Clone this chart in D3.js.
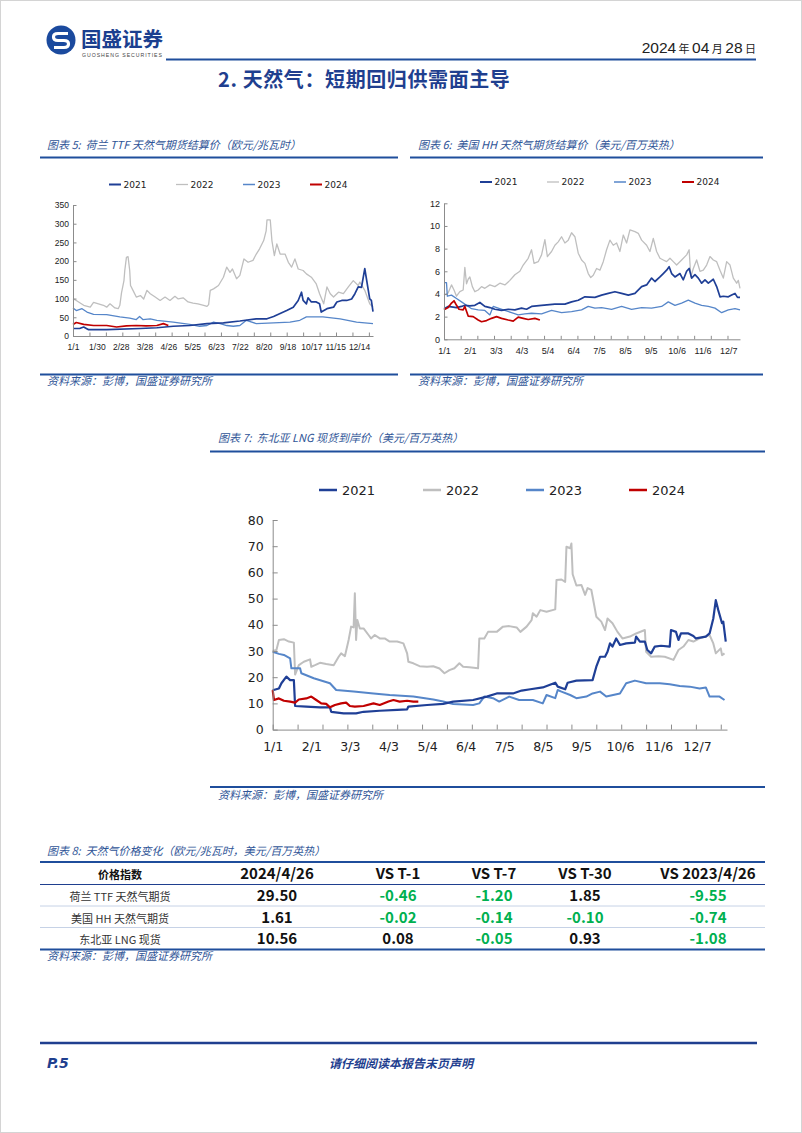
<!DOCTYPE html>
<html><head><meta charset="utf-8">
<script src="https://cdn.jsdelivr.net/npm/d3@7"></script>
<style>body{margin:0;background:#fff}svg text{white-space:pre}</style>
</head><body>
<svg id="page" width="802" height="1133"></svg>
<script>
// ---------------- DATA ----------------
const years = ["2021", "2022", "2023", "2024"];
// Chart 5: TTF (EUR/MWh) — [day of year, value]
const ttf2021 = [[0,20],[8,20],[13,24],[19,17],[41,17],[82,20],[102,22],[122,26],[142,28],[163,33],[183,35],[203,40],[223,46],[236,46],[244,52],[252,60],[260,68],[268,77],[274,95],[278,117],[280,95],[284,86],[286,102],[290,91],[296,91],[300,86],[302,64],[309,73],[317,77],[321,91],[327,95],[333,95],[339,99],[343,113],[347,131],[351,130],[355,180],[359,126],[361,99],[363,95],[365,65]];
const ttf2022 = [[0,100],[4,95],[13,82],[21,77],[25,90],[31,86],[37,82],[41,77],[45,86],[51,75],[55,73],[57,82],[59,115],[62,148],[63,175],[65,210],[67,212],[69,175],[70,135],[73,122],[77,104],[82,108],[86,99],[90,122],[94,113],[100,104],[106,95],[112,104],[118,95],[124,106],[128,99],[134,102],[140,91],[146,88],[152,86],[159,82],[163,79],[165,84],[167,122],[171,126],[177,135],[183,157],[187,184],[191,170],[194,179],[199,153],[203,162],[208,206],[213,197],[219,202],[223,219],[227,233],[232,255],[235,281],[236,310],[240,310],[242,255],[245,215],[248,246],[252,219],[258,219],[262,197],[266,184],[270,206],[274,179],[280,175],[284,166],[290,157],[296,139],[300,113],[305,86],[309,131],[313,113],[317,104],[323,117],[329,113],[335,131],[341,148],[347,135],[349,144],[355,122],[361,86],[365,77]];
const ttf2023 = [[0,75],[4,68],[11,73],[17,64],[25,58],[41,57],[57,51],[69,48],[77,44],[81,52],[85,44],[94,46],[102,42],[122,37],[142,31],[154,26],[163,28],[171,37],[179,33],[187,28],[195,26],[203,28],[211,42],[223,33],[244,35],[264,37],[276,42],[284,51],[304,51],[325,46],[345,37],[365,33]];
const ttf2024 = [[0,31],[4,36],[13,31],[25,28],[41,28],[53,24],[65,27],[77,28],[89,27],[102,28],[110,33],[116,28]];
const ttfXLabels = ["1/1","1/30","2/28","3/28","4/26","5/25","6/23","7/22","8/20","9/18","10/17","11/15","12/14"];
const ttfYTicks = [0,50,100,150,200,250,300,350];

// Chart 6: Henry Hub (USD/MMBtu)
const hh2021 = [[0,2.7],[5,2.9],[15,2.8],[21,2.9],[25,3.0],[31,2.95],[37,3.0],[43,3.25],[49,2.9],[55,2.8],[61,2.65],[69,2.55],[77,2.65],[85,2.6],[93,2.75],[99,2.65],[105,2.9],[117,3.0],[133,3.1],[145,3.1],[153,3.3],[161,3.45],[169,3.75],[181,3.7],[189,3.9],[197,4.05],[205,4.2],[213,4.05],[221,3.9],[229,4.05],[237,4.65],[243,4.8],[249,5.4],[253,5.1],[259,5.5],[263,5.8],[267,6.1],[270,6.4],[273,5.8],[277,5.5],[283,5.8],[287,5.25],[291,6.0],[294,6.25],[297,5.4],[301,5.7],[305,5.4],[309,4.95],[313,5.25],[317,4.95],[323,5.3],[327,4.65],[331,3.75],[335,3.8],[341,3.75],[345,3.9],[349,4.05],[352,3.7],[355,3.7]];
const hh2022 = [[0,3.9],[5,4.1],[9,4.8],[12,4.35],[15,3.8],[19,4.2],[23,4.35],[25,6.35],[27,4.9],[29,5.3],[31,5.5],[34,4.65],[37,4.2],[41,4.35],[45,4.65],[49,4.5],[55,4.8],[61,4.65],[67,4.95],[73,4.8],[79,5.2],[85,5.7],[91,6.0],[95,6.55],[101,7.15],[105,7.9],[108,6.7],[113,6.85],[117,7.45],[121,8.8],[124,7.3],[129,7.75],[133,8.3],[137,8.6],[141,9.05],[145,8.5],[149,8.75],[153,9.4],[157,9.05],[161,7.6],[165,7.0],[169,6.7],[173,5.8],[176,5.45],[179,5.65],[183,6.25],[187,6.1],[191,6.85],[195,7.9],[199,8.75],[203,8.3],[207,8.5],[211,7.75],[215,9.2],[219,8.5],[223,9.65],[229,9.5],[233,9.35],[237,8.75],[243,8.3],[247,7.75],[251,8.9],[255,7.75],[259,7.15],[263,7.0],[267,6.85],[271,7.15],[275,6.85],[279,6.55],[285,7.0],[291,7.45],[294,7.9],[296,5.5],[299,6.25],[303,7.0],[307,6.0],[311,6.1],[315,6.55],[319,7.3],[323,7.0],[327,6.85],[331,6.1],[335,5.4],[339,6.85],[343,6.55],[347,5.4],[351,4.95],[353,5.2],[355,4.5]];
const hh2023 = [[0,5.0],[3,5.0],[4,3.8],[9,3.9],[15,3.6],[21,3.3],[27,3.0],[33,2.7],[41,2.6],[49,2.55],[55,2.15],[59,2.9],[65,2.75],[73,2.55],[81,2.35],[89,2.15],[97,2.25],[105,2.3],[117,2.25],[129,2.55],[141,2.35],[153,2.45],[165,2.6],[173,2.9],[181,2.75],[189,2.8],[201,2.65],[213,2.9],[225,2.65],[237,2.8],[249,2.75],[261,2.9],[269,3.3],[277,3.0],[285,3.2],[293,3.45],[301,3.2],[309,3.0],[317,2.9],[325,2.75],[333,2.35],[341,2.6],[349,2.7],[355,2.6]];
const hh2024 = [[0,2.6],[5,2.8],[9,3.2],[12,3.4],[15,3.0],[18,2.65],[23,2.6],[25,2.9],[29,2.05],[35,2.0],[41,1.7],[45,1.55],[51,1.65],[57,1.85],[63,2.0],[69,1.85],[77,1.7],[83,1.6],[89,1.95],[95,1.85],[101,1.75],[109,1.85],[115,1.7]];
const hhXLabels = ["1/1","2/1","3/3","4/3","5/4","6/4","7/5","8/5","9/5","10/6","11/6","12/7"];
const hhYTicks = [0,2,4,6,8,10,12];

// Chart 7: Northeast Asia LNG spot (USD/MMBtu)
const lng2021 = [[0,15],[5,15.7],[7,17.7],[11,20.2],[14,18.9],[17,18.9],[18,9.0],[27,8.8],[38,8.5],[46,8.5],[47,6.8],[57,6.2],[67,6.2],[73,6.8],[86,7.2],[100,7.5],[108,7.7],[109,8.8],[124,9.4],[137,9.8],[145,10.7],[161,11.3],[172,12.6],[180,13.8],[193,13.8],[200,14.9],[207,15.4],[217,16.1],[227,17.9],[229,16.4],[235,15.4],[237,17.9],[244,18.7],[257,18.9],[260,24],[263,27.8],[267,27.8],[269,29.7],[271,32.9],[273,31.7],[276,34.8],[279,32.3],[284,32.9],[291,33.2],[292,35.5],[295,33.6],[299,33.6],[301,30.4],[304,29.1],[307,31.7],[312,32],[319,31.7],[320,38],[324,37.3],[326,34.2],[328,36.7],[334,36.7],[338,35.7],[340,34.8],[348,35.5],[351,36.7],[354,42.4],[356,49.4],[358,45.6],[361,40.6],[362,41.2],[364,33.6]];
const lng2022 = [[0,30],[3,30.4],[5,34.2],[9,34.5],[13,33.6],[17,33.2],[18,21],[21,24.6],[25,25.9],[30,26.8],[31,24],[34,24.6],[38,25.5],[43,25],[49,24.6],[53,27.8],[55,29.1],[58,28],[61,34.2],[63,39.3],[65,39],[66,52],[67,34.2],[68,41.8],[70,38.6],[73,38.6],[77,36.1],[79,34.8],[82,36.1],[86,34.8],[90,34.8],[94,33.6],[100,33.6],[105,32.9],[108,29.1],[109,25.9],[113,25.3],[118,24.2],[124,24],[129,24.2],[134,23.3],[138,21.5],[142,22.7],[146,23.4],[150,25.3],[153,24],[158,23.8],[165,23.4],[166,34.8],[170,34.8],[173,37.3],[180,37.3],[185,39.3],[190,39.5],[196,39],[199,37.3],[204,39.3],[208,41.8],[209,44.4],[212,43.1],[215,45.6],[220,45],[227,45.9],[228,57.1],[232,57.3],[235,56.4],[236,69.8],[239,69.2],[240,71],[241,59.3],[244,55],[248,55.2],[251,51.4],[253,54],[256,53.3],[257,50.8],[260,43.1],[264,41.2],[267,38],[269,42.4],[273,40.6],[277,37.3],[281,34.8],[287,35.5],[292,36.7],[299,38],[300,29.7],[304,27.8],[310,28],[315,27.8],[322,26.6],[326,30.4],[330,31.7],[334,34.2],[338,33.6],[343,34.8],[351,36.1],[354,32.9],[356,29.1],[360,31],[361,28.4],[363,29.1]];
const lng2023 = [[0,29.7],[5,28.9],[9,28.5],[14,27.2],[15,23.4],[22,23.4],[23,21.5],[33,19.6],[46,17.7],[51,15.1],[65,14.5],[81,13.8],[94,13.2],[113,12.6],[129,11.5],[137,10.7],[145,9.8],[161,9.4],[166,10],[170,12.6],[177,12],[182,10.7],[190,12.6],[198,11.3],[209,11.3],[217,10],[220,13.2],[227,12],[229,15.1],[232,14.5],[239,13.2],[244,12],[252,12.6],[257,13.8],[263,14.5],[268,12.6],[279,13.8],[284,17.7],[291,18.7],[300,17.7],[311,17.7],[319,17.3],[327,16.6],[335,16.4],[343,15.7],[348,16.1],[351,12.6],[359,12.6],[363,11.3]];
const lng2024 = [[0,15.1],[1,11.3],[5,11.9],[9,11],[14,10.7],[18,10.3],[21,11.5],[27,11.9],[31,12.6],[35,11.3],[39,10],[43,9.8],[46,8.5],[50,9.4],[55,10],[59,10.3],[62,9],[66,8.8],[73,9],[81,10],[86,9.4],[93,10.7],[97,11.3],[102,10.7],[108,11],[113,10.7],[117,10.7]];
const lngXLabels = ["1/1","2/1","3/3","4/3","5/4","6/4","7/5","8/5","9/5","10/6","11/6","12/7"];
const lngYTicks = [0,10,20,30,40,50,60,70,80];

// Table 8
const tableHeader = ["价格指数","2024/4/26","VS T-1","VS T-7","VS T-30","VS 2023/4/26"];
const tableRowNames = ["荷兰 TTF 天然气期货","美国 HH 天然气期货","东北亚 LNG 现货"];
const tablePrice = ["29.50","1.61","10.56"];
const tableVsT1 = ["-0.46","-0.02","0.08"];
const tableVsT7 = ["-1.20","-0.14","-0.05"];
const tableVsT30 = ["1.85","-0.10","0.93"];
const tableVsYear = ["-9.55","-0.74","-1.08"];

// ---------------- STYLE ----------------
const CJK = "'Noto Sans CJK SC','Noto Sans',sans-serif";
const NUM = "'DejaVu Sans',sans-serif";
const NUM_SMALL = "'Liberation Sans',Arial,sans-serif";
const DARK_BLUE = "#1f4e9c";
const TITLE_BLUE = "#2f5597";
const yearColor = {"2021":"#1f3f96","2022":"#bfbfbf","2023":"#5686c9","2024":"#c00000"};
const drawOrder = [1, 2, 0, 3];

const svg = d3.select("#page");
svg.append("rect").attr("x",0.5).attr("y",0.5).attr("width",801).attr("height",1132)
  .attr("fill","#fff").attr("stroke","#d4d4d4");

// ---------------- HEADER ----------------
const logo = svg.append("g");
logo.append("circle").attr("cx",61).attr("cy",40).attr("r",14.5).attr("fill","#1b4a9e");
logo.append("path").attr("d","M68,33.5 H58 Q53.5,33.5 53.5,37 Q53.5,40.5 58,40.5 H64 Q68.5,40.5 68.5,44 Q68.5,47.5 64,47.5 H54")
  .attr("fill","none").attr("stroke","#fff").attr("stroke-width",3.2);
svg.append("text").attr("x",81).attr("y",46.5).attr("font-family",CJK).attr("font-weight","bold")
  .attr("font-size",20.5).attr("fill","#1b3f8f").text("国盛证券");
svg.append("text").attr("x",82).attr("y",56.5).attr("font-family","'Liberation Sans',sans-serif")
  .attr("font-size",5.2).attr("letter-spacing",0.95).attr("fill","#444").text("GUOSHENG SECURITIES");
const dateT = svg.append("text").attr("x",756).attr("y",53).attr("text-anchor","end").attr("fill","#222");
[["2024","n"],[" 年 ","c"],["04","n"],[" 月 ","c"],["28","n"],[" 日","c"]].forEach(([t,k]) => {
  dateT.append("tspan").attr("font-family", k==="n" ? "'Liberation Sans',sans-serif" : CJK)
    .attr("font-size", k==="n" ? 15.5 : 11).text(t);
});
svg.append("line").attr("x1",166).attr("x2",756).attr("y1",59.5).attr("y2",59.5)
  .attr("stroke",DARK_BLUE).attr("stroke-width",2);
svg.append("text").attr("x",218).attr("y",87).attr("font-family",CJK).attr("font-weight","bold")
  .attr("font-size",20).attr("letter-spacing",0.6).attr("fill","#1f3f8f").text("2. 天然气：短期回归供需面主导");

// ---------------- HELPERS ----------------
function caption(x, y, txt, size) {
  svg.append("text").attr("x",x).attr("y",y).attr("font-family",CJK).attr("font-style","italic")
    .attr("font-size",size||11).attr("fill",TITLE_BLUE).text(txt);
}
function rule(x1, x2, y, w, c) {
  svg.append("line").attr("x1",x1).attr("x2",x2).attr("y1",y).attr("y2",y)
    .attr("stroke",c||DARK_BLUE).attr("stroke-width",w||2);
}

function drawChart(cfg) {
  const x = d3.scaleLinear().domain([0, cfg.xMax]).range([cfg.left, cfg.right]);
  const y = d3.scaleLinear().domain([0, cfg.yMax]).range([cfg.bottom, cfg.top]);
  const g = svg.append("g");

  const line = d3.line().x(d => x(d[0])).y(d => y(d[1]));
  drawOrder.forEach(i => {
    g.append("path").datum(cfg.series[i]).attr("d", line)
      .attr("fill","none").attr("stroke", yearColor[years[i]])
      .attr("stroke-width", cfg.widths[i]).attr("stroke-linejoin","round");
  });

  const ya = g.append("g").attr("transform",`translate(${cfg.left},0)`)
    .call(d3.axisLeft(y).tickValues(cfg.yTicks).tickSizeInner(-cfg.tick).tickSizeOuter(0)
      .tickPadding(cfg.yPad).tickFormat(d3.format("d")));
  const xt = g.append("g").attr("transform",`translate(0,${cfg.bottom})`)
    .call(d3.axisBottom(x).tickValues(d3.range(0, cfg.xMax + 1, 20)).tickSizeInner(-cfg.tick)
      .tickSizeOuter(0).tickFormat(""));
  const xl = g.append("g").attr("transform",`translate(0,${cfg.bottom})`)
    .call(d3.axisBottom(x).tickValues(cfg.xLabels.map((d,i) => i * cfg.labelStep)).tickSize(0)
      .tickPadding(cfg.xPad).tickFormat((d,i) => cfg.xLabels[i]));
  xl.select(".domain").remove();
  [ya, xt, xl].forEach(a => {
    a.selectAll(".domain").attr("stroke","#8c8c8c").attr("stroke-width",1);
    a.selectAll(".tick line").attr("stroke","#8c8c8c");
    a.selectAll("text").attr("font-family",cfg.family).attr("font-size",cfg.font).attr("fill","#222");
  });

  years.forEach((yr, i) => {
    const lx = cfg.legendX[i];
    g.append("line").attr("x1",lx).attr("x2",lx + cfg.legendLen).attr("y1",cfg.legendY).attr("y2",cfg.legendY)
      .attr("stroke",yearColor[yr]).attr("stroke-width",cfg.legendW[i]);
    g.append("text").attr("x",lx + cfg.legendLen + cfg.legendGap).attr("y",cfg.legendY)
      .attr("dy","0.36em").attr("font-family",cfg.legendFamily).attr("font-size",cfg.legendFont).attr("fill","#222").text(yr);
  });
}

// ---------------- CHART 5 ----------------
caption(47, 149, "图表 5:  荷兰 TTF 天然气期货结算价（欧元/兆瓦时）");
rule(40, 398, 157.5, 2);
drawChart({
  left:73, right:373, top:205, bottom:336, xMax:365, yMax:350,
  series:[ttf2021, ttf2022, ttf2023, ttf2024], widths:[1.7,1.3,1.3,1.7],
  yTicks:ttfYTicks, xLabels:ttfXLabels, labelStep:29, tick:3.5, yPad:4, xPad:7.5, font:8.5, family:NUM_SMALL,
  legendX:[109,176,243,310], legendY:184.5, legendLen:12, legendGap:2.5, legendFont:9, legendFamily:NUM, legendW:[2,1.3,1.5,2]
});
rule(40, 398, 374.5, 2);
caption(47, 385, "资料来源：彭博，国盛证券研究所");

// ---------------- CHART 6 ----------------
caption(418, 149, "图表 6:  美国 HH 天然气期货结算价（美元/百万英热）");
rule(410, 763, 157.5, 2);
drawChart({
  left:444, right:740, top:203.3, bottom:339.3, xMax:355, yMax:12,
  series:[hh2021, hh2022, hh2023, hh2024], widths:[1.7,1.3,1.3,1.7],
  yTicks:hhYTicks, xLabels:hhXLabels, labelStep:31, tick:3.5, yPad:4, xPad:8.5, font:9, family:NUM_SMALL,
  legendX:[480,547,614,682], legendY:182, legendLen:12, legendGap:2.5, legendFont:9, legendFamily:NUM, legendW:[2,1.3,1.5,2]
});
rule(410, 763, 374.5, 2);
caption(418, 385, "资料来源：彭博，国盛证券研究所");

// ---------------- CHART 7 ----------------
caption(218, 442, "图表 7:  东北亚 LNG 现货到岸价（美元/百万英热）");
rule(210, 765, 451.5, 2);
drawChart({
  left:272.7, right:727, top:520, bottom:729.6, xMax:365, yMax:80,
  series:[lng2021, lng2022, lng2023, lng2024], widths:[2.2,2,2,2.2],
  yTicks:lngYTicks, xLabels:lngXLabels, labelStep:31, tick:5, yPad:9, xPad:13, font:12.5, family:NUM,
  legendX:[319,423,526,629], legendY:490, legendLen:18, legendGap:5, legendFont:13, legendFamily:NUM, legendW:[2.5,2.5,2.5,2.5]
});
rule(210, 765, 787, 2);
caption(218, 799, "资料来源：彭博，国盛证券研究所");

// ---------------- TABLE 8 ----------------
caption(47, 855, "图表 8:  天然气价格变化（欧元/兆瓦时，美元/百万英热）");
const colX = [120, 277, 398, 494, 585, 708];
const rowY = [901, 922.5, 944];
rule(40, 765, 862, 2);
tableHeader.forEach((h, i) => {
  svg.append("text").attr("x",colX[i]).attr("y",879).attr("text-anchor","middle")
    .attr("font-family",CJK).attr("font-weight","bold").attr("font-size", i===0 ? 11 : 15)
    .attr("fill","#111").text(h);
});
rule(40, 765, 884.5, 1, "#1f3f8f");
rule(40, 765, 906, 0.8, "#b8c7e0");
rule(40, 765, 927.5, 0.8, "#b8c7e0");
const tableCols = [tablePrice, tableVsT1, tableVsT7, tableVsT30, tableVsYear];
tableRowNames.forEach((name, r) => {
  svg.append("text").attr("x",colX[0]).attr("y",rowY[r]).attr("text-anchor","middle")
    .attr("font-family",CJK).attr("font-size",11).attr("fill","#333").text(name);
  tableCols.forEach((col, c) => {
    const v = col[r];
    const neg = c > 0 && v.startsWith("-");
    svg.append("text").attr("x",colX[c+1]).attr("y",rowY[r]).attr("text-anchor","middle")
      .attr("font-family",CJK).attr("font-weight","bold").attr("font-size",15)
      .attr("fill", neg ? "#00b050" : "#111").text(v);
  });
});
rule(40, 765, 949.5, 2);
caption(47, 960, "资料来源：彭博，国盛证券研究所");

// ---------------- FOOTER ----------------
rule(40, 757, 1043, 2.5, "#1f3f8f");
svg.append("text").attr("x",47).attr("y",1068).attr("font-family","'DejaVu Sans',sans-serif")
  .attr("font-weight","bold").attr("font-style","italic").attr("font-size",14).attr("fill","#1f3f8f").text("P.5");
svg.append("text").attr("x",401).attr("y",1068).attr("text-anchor","middle").attr("font-family",CJK)
  .attr("font-style","italic").attr("font-weight","bold").attr("font-size",12).attr("fill","#1f3f8f").text("请仔细阅读本报告末页声明");
</script>
</body></html>
